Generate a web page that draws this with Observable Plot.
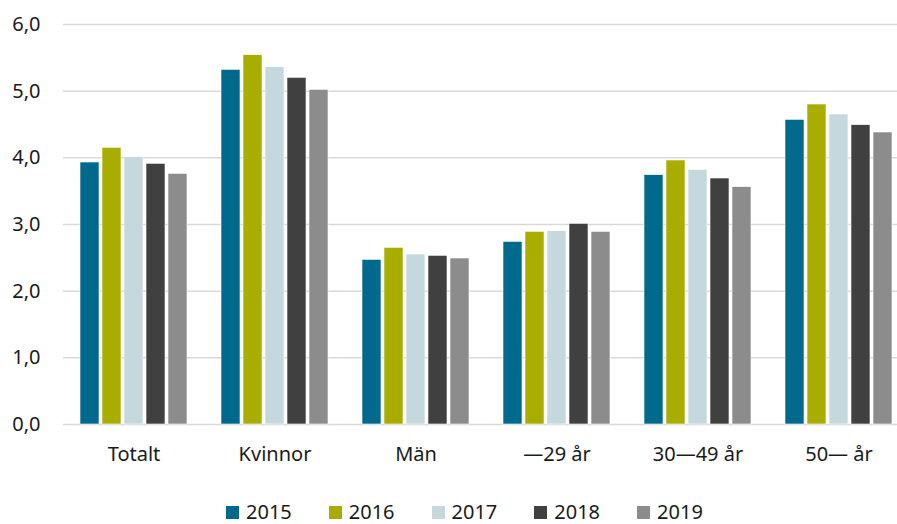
<!DOCTYPE html>
<html>
<head>
<meta charset="utf-8">
<script src="https://cdn.jsdelivr.net/npm/d3@7"></script>
<script src="https://cdn.jsdelivr.net/npm/@observablehq/plot@0.6"></script>
<style>
  html, body { margin: 0; padding: 0; background: #fff; overflow: hidden; }
  body { width: 897px; height: 524px; font-family: "Noto Sans", sans-serif; color: #1a1a1a; }
  #legend { display: flex; align-items: center; height: 24px; padding-left: 226px; font-size: 20px; line-height: 24px; }
  #legend .item { display: flex; align-items: center; margin-right: 37px; }
  #legend .sw { width: 13px; height: 13px; margin-right: 7px; }
</style>
</head>
<body>
<div id="chart"></div>
<div id="legend"></div>
<script>
const categories = ["Totalt", "Kvinnor", "Män", "—29 år", "30—49 år", "50— år"];
const years = ["2015", "2016", "2017", "2018", "2019"];
const v2015 = [3.93, 5.32, 2.47, 2.74, 3.74, 4.57];
const v2016 = [4.15, 5.54, 2.65, 2.89, 3.96, 4.80];
const v2017 = [4.01, 5.36, 2.55, 2.90, 3.82, 4.65];
const v2018 = [3.91, 5.20, 2.53, 3.01, 3.69, 4.49];
const v2019 = [3.76, 5.02, 2.49, 2.89, 3.56, 4.38];
const colors = ["#00698c", "#a8ad00", "#c5d8de", "#404040", "#8c8c8c"];
const yTicks = [0, 1, 2, 3, 4, 5, 6];

const series = [v2015, v2016, v2017, v2018, v2019];
const rows = [];
categories.forEach((c, i) => years.forEach((y, j) => rows.push({cat: c, year: y, value: series[j][i]})));

const fmt = d => d.toFixed(1).replace(".", ",");

const chart = Plot.plot({
  width: 897,
  height: 500,
  marginLeft: 63,
  marginRight: 0,
  marginTop: 24,
  marginBottom: 76,
  style: {fontSize: "20px", fontFamily: "Noto Sans, sans-serif", color: "#1a1a1a", background: "#fff"},
  fx: {domain: categories, range: [63, 909], padding: 0, axis: "bottom", tickSize: 0, tickPadding: 22, label: null},
  x: {domain: years, paddingInner: 0.12, paddingOuter: 0.672, axis: null},
  y: {domain: [0, 6], ticks: yTicks, tickFormat: fmt, tickSize: 0, tickPadding: 23, label: null},
  color: {domain: years, range: colors},
  marks: [
    Plot.ruleY(yTicks, {stroke: "#d9d9d9", strokeWidth: 1.5}),
    Plot.barY(rows, {fx: "cat", x: "year", y: "value", fill: "year", stroke: "#ffffff", strokeWidth: 0.6})
  ]
});
document.getElementById("chart").appendChild(chart);

const legend = document.getElementById("legend");
years.forEach((y, i) => {
  const item = document.createElement("div");
  item.className = "item";
  const sw = document.createElement("div");
  sw.className = "sw";
  sw.style.background = colors[i];
  const t = document.createElement("span");
  t.textContent = y;
  item.appendChild(sw);
  item.appendChild(t);
  legend.appendChild(item);
});
</script>
</body>
</html>
